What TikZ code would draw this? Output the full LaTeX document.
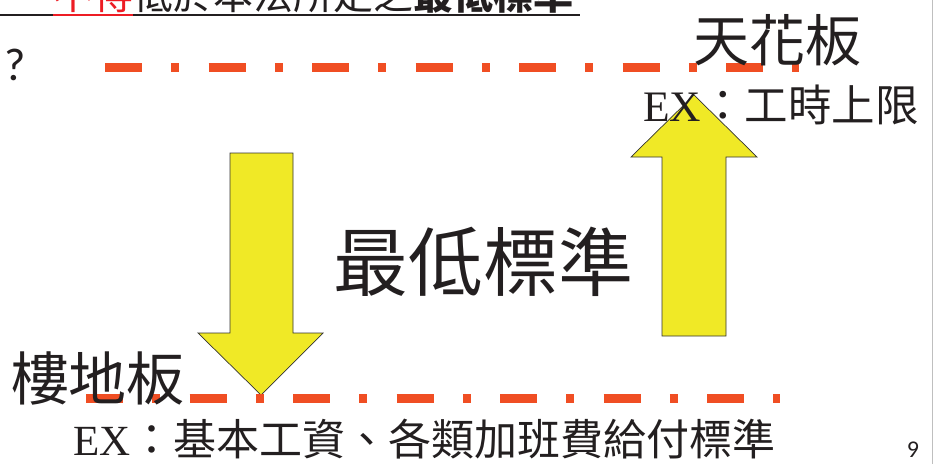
\documentclass[tikz,border=0pt]{standalone}
\usepackage{fontspec}
\setmainfont{Liberation Serif}
\newfontfamily\cjk{Noto Sans CJK TC}
\newfontfamily\numfont{Carlito}
\definecolor{limitred}{RGB}{240,78,35}
\definecolor{arrowyellow}{RGB}{240,233,38}
\definecolor{txtred}{RGB}{237,28,36}
\definecolor{txtblack}{RGB}{35,31,32}
\def\fsize#1{\fontsize{#1}{#1}\selectfont}

\begin{document}
\begin{tikzpicture}[x=1pt,y=-1pt,text=txtblack]
    \tikzstyle{limit line}=[draw=limitred,line width=9pt,dash pattern=on 37pt off 29.25pt on 8pt off 29.25pt]
    \tikzstyle{big arrow}=[draw=black!80,fill=arrowyellow,line width=0.7pt,line join=miter]
    \tikzstyle{label}=[inner sep=0pt,font=\cjk]
    \useasboundingbox (0,0) rectangle (935,464);

    % slide edge
    \draw[black!25,line width=0.8pt] (932,0) -- (932,464);

    % Title line, cut off at the top
    \node[label,anchor=base west] (title) at (53,9)
        {\fsize{40}\textcolor{txtred}{不得}低於本法所定之\textbf{最低標準}};
    \draw[txtblack,line width=2pt] (0,15) -- (580,15);
    \draw[txtred,line width=2pt] (53,15) -- (133,15);

    % The two arrows
    \draw[big arrow] (230,153) -- (293,153) -- (293,333) -- (323,333)
        -- (261,395) -- (198,333) -- (230,333) -- cycle;
    \draw[big arrow] (662,336) -- (726,336) -- (726,157) -- (757,157)
        -- (694,95) -- (631,157) -- (662,157) -- cycle;

    % Ceiling and floor
    \coordinate (ceil-a) at (105,67);
    \coordinate (ceil-b) at (799,67);
    \coordinate (floor-a) at (86,398);
    \coordinate (floor-b) at (780,398);
    \draw[limit line] (ceil-a) -- (ceil-b);
    \draw[limit line] (floor-a) -- (floor-b);

    % Labels
    \node[inner sep=0pt,font=\numfont] (qmark) at (15,65) {\fsize{46}?};
    \node[label] (ceiling) at (777,40) {\fsize{56}天花板};
    \node[inner sep=0pt,anchor=west] (ceil-ex) at (643,105) {\fsize{43.5}EX{\cjk ：工時上限}};
    \node[label] (minstd) at (483,262) {\fsize{75}最低標準};
    \node[label] (floor) at (98,378) {\fsize{58}樓地板};
    \node[inner sep=0pt,anchor=west] (floor-ex) at (73,439) {\fsize{43}EX{\cjk ：基本工資、各類加班費給付標準}};
    \node[inner sep=0pt,font=\numfont] (page) at (913,450) {\fsize{24}9};
\end{tikzpicture}
\end{document}
